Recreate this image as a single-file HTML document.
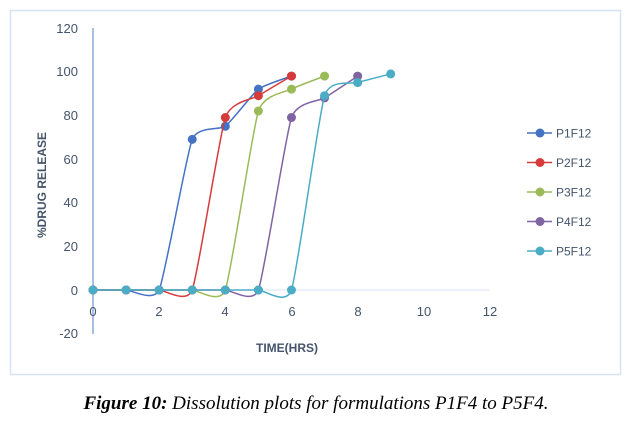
<!DOCTYPE html>
<html><head><style>
body{margin:0;background:#fff;width:636px;height:425px;overflow:hidden}
svg{display:block}
</style></head><body>
<svg id="s" width="636" height="425" xmlns="http://www.w3.org/2000/svg" font-family="Liberation Sans, sans-serif">
<rect x="10.5" y="10.5" width="610" height="364" fill="#fff" stroke="#d6e4f2" stroke-width="1.5"/>
<line x1="93" y1="290" x2="490" y2="290" stroke="#d9e4f5" stroke-width="1"/>
<line x1="93" y1="28" x2="93" y2="334" stroke="#8eaadc" stroke-width="1.5"/>
<g font-size="13" fill="#44546a" text-anchor="end">
<text x="78" y="33">120</text><text x="78" y="76">100</text><text x="78" y="120">80</text>
<text x="78" y="164">60</text><text x="78" y="207">40</text><text x="78" y="251">20</text>
<text x="78" y="295">0</text><text x="78" y="338">-20</text>
</g>
<g font-size="13" fill="#44546a" text-anchor="middle">
<text x="93" y="316">0</text><text x="159" y="316">2</text><text x="225" y="316">4</text>
<text x="292" y="316">6</text><text x="358" y="316">8</text><text x="424" y="316">10</text><text x="490" y="316">12</text>
</g>
<text x="287" y="352" font-size="12" font-weight="bold" fill="#44546a" text-anchor="middle">TIME(HRS)</text>
<text transform="translate(46,185) rotate(-90)" font-size="12" font-weight="bold" fill="#44546a" text-anchor="middle">%DRUG RELEASE</text>
<g id="plot"></g>
<g id="leg" font-size="12" fill="#44546a"></g>
<text x="316" y="409" font-family="Liberation Serif, serif" font-style="italic" font-size="19" text-anchor="middle" fill="#000"><tspan font-weight="bold">Figure 10:</tspan> Dissolution plots for formulations P1F4 to P5F4.</text>
</svg>
<script>
var X=v=>93+v*33.08,Y=v=>290-v*2.183;
var S=[["P1F12","#4472c4",[[0,0],[1,0],[2,0],[3,69],[4,75],[5,92],[6,98]]],
["P2F12","#d63b3b",[[0,0],[1,0],[2,0],[3,0],[4,79],[5,89],[6,98]]],
["P3F12","#9bbb59",[[0,0],[1,0],[2,0],[3,0],[4,0],[5,82],[6,92],[7,98]]],
["P4F12","#8064a2",[[0,0],[1,0],[2,0],[3,0],[4,0],[5,0],[6,79],[7,88],[8,98]]],
["P5F12","#4bacc6",[[0,0],[1,0],[2,0],[3,0],[4,0],[5,0],[6,0],[7,89],[8,95],[9,99]]]];
var g=document.getElementById('plot'),l=document.getElementById('leg'),h='',lh='';
S.forEach((s,k)=>{var p=s[2].map(a=>[X(a[0]),Y(a[1])]);var d='M'+p[0];
for(var i=0;i<p.length-1;i++){var p0=p[i-1]||p[i],p1=p[i],p2=p[i+1],p3=p[i+2]||p2;
var t=0.25/3;d+='C'+(p1[0]+(p2[0]-p0[0])*t)+','+(p1[1]+(p2[1]-p0[1])*t)+' '+(p2[0]-(p3[0]-p1[0])*t)+','+(p2[1]-(p3[1]-p1[1])*t)+' '+p2[0]+','+p2[1];}
h+='<path d="'+d+'" fill="none" stroke="'+s[1]+'" stroke-width="1.5"/>';
p.forEach(q=>h+='<circle cx="'+q[0]+'" cy="'+q[1]+'" r="4.5" fill="'+s[1]+'"/>');
var y=133+k*29.5;lh+='<line x1="527" y1="'+y+'" x2="552" y2="'+y+'" stroke="'+s[1]+'" stroke-width="1.5"/><circle cx="540" cy="'+y+'" r="4.5" fill="'+s[1]+'"/><text x="556" y="'+(y+4.5)+'">'+s[0]+'</text>';});
g.innerHTML=h;l.innerHTML=lh;
</script>
</body></html>
